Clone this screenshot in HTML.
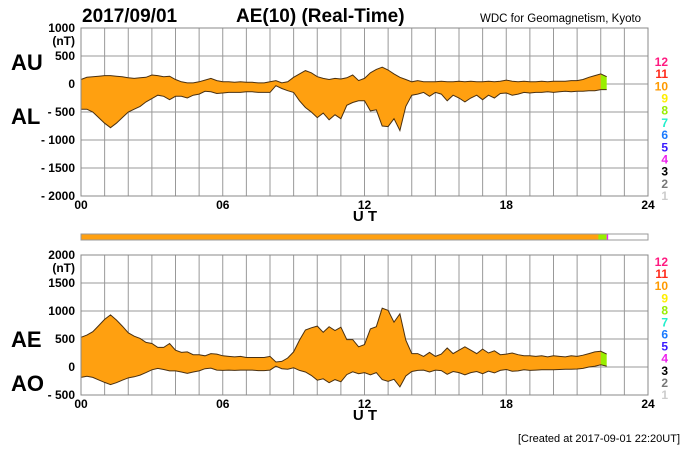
<!DOCTYPE html>
<html><head><meta charset="utf-8"><style>
html,body{margin:0;padding:0;background:#fff;}
svg{display:block;font-family:"Liberation Sans",sans-serif;}
</style></head><body>
<svg id="chart" width="700" height="450" viewBox="0 0 700 450" xmlns="http://www.w3.org/2000/svg">
<text x="82" y="22" font-size="19" font-weight="bold">2017/09/01</text>
<text x="236" y="22" font-size="19" font-weight="bold">AE(10) (Real-Time)</text>
<text x="480" y="22" font-size="11.5">WDC for Geomagnetism, Kyoto</text>
<text x="11" y="70" font-size="22" font-weight="bold">AU</text>
<text x="11" y="124" font-size="22" font-weight="bold">AL</text>
<text x="11" y="347" font-size="22" font-weight="bold">AE</text>
<text x="11" y="391" font-size="22" font-weight="bold">AO</text>
<text x="680" y="442" font-size="11" text-anchor="end">[Created at 2017-09-01 22:20UT]</text>
<g id="g"></g>
</svg>
<script>
const hourTicks = ["00","06","12","18","24"];
const topTicks = [1000,500,0,-500,-1000,-1500,-2000];
const botTicks = [2000,1500,1000,500,0,-500];
const levelLabels = ["12","11","10","9","8","7","6","5","4","3","2","1"];
const levelColors = ["#ff1a80","#ff2a1a","#ff9a00","#ffee00","#99ee00","#22eecc","#1a7aff","#3a1aff","#ee22ee","#000000","#777777","#cccccc"];
const stepHours = 0.25;
const AU = [80,120,130,140, 150,150,140,130, 110,100,110,120, 160,150,130,140, 80,40,20,20,
 40,70,100,60, 40,40,30,40, 30,30,20,20, 40,60,20,40, 120,180,240,200,
 130,100,80,100, 90,110,160,60, 100,200,260,300, 250,180,120,80, 40,60,40,40,
 40,50,40,40, 50,40,50,40, 40,50,40,50, 70,50,40,50, 40,40,50,40,
 50,50,50,60, 60,80,120,150, 180,130];
const AL = [-450,-450,-500,-600, -700,-780,-700,-600, -500,-450,-400,-320, -260,-200,-220,-280, -220,-220,-250,-200,
 -180,-130,-140,-170, -160,-150,-150,-150, -140,-140,-150,-150, -150,-30,-80,-120, -150,-300,-420,-500,
 -600,-520,-640,-550, -620,-380,-330,-300, -300,-480,-460,-750, -760,-620,-830,-400, -200,-180,-150,-220,
 -150,-180,-300,-200, -250,-320,-250,-200, -280,-200,-250,-170, -160,-200,-180,-150, -160,-150,-150,-140,
 -150,-140,-130,-140, -130,-130,-120,-120, -100,-100];
const greenStartHour = 21.9;

const NS="http://www.w3.org/2000/svg";
const g=document.getElementById('g');
function mk(t,a,parent){const e=document.createElementNS(NS,t);for(const k in a)e.setAttribute(k,a[k]);(parent||g).appendChild(e);return e;}
const X0=81,X1=648;
const xs=h=>X0+(X1-X0)*h/24;
function yAxis(top,bot,vmax,vmin){return v=>top+(vmax-v)*(bot-top)/(vmax-vmin);}
const yTop=yAxis(28,196,1000,-2000);
const yBot=yAxis(255,395,2000,-500);

function panel(name,top,bot,ticks,ys,upper,lower,legTop,legBot){
  const grid=mk('g',{});
  
  
  for(let h=0;h<=24;h++){const l=mk('line',{x1:xs(h),x2:xs(h),y1:top,y2:bot,stroke:'#999','stroke-width':1},grid);}
  ticks.forEach(v=>{mk('line',{x1:X0,x2:X1,y1:ys(v),y2:ys(v),stroke:'#999','stroke-width':1},grid);
    const t=mk('text',{x:75,y:ys(v)+4,'font-size':12,'font-weight':'bold','text-anchor':'end'});
    
    
    t.textContent=(v<0?'- '+(-v):String(v));
  });
  const u=mk('text',{x:75,y:top+17,'font-size':12,'font-weight':'bold','text-anchor':'end'});
  
  
  u.textContent='(nT)';
  // fill
  const n=upper.length;
  const pt=(i,arr)=>xs(i*stepHours).toFixed(1)+','+ys(arr[i]).toFixed(1);
  const gi=Math.round(greenStartHour/stepHours);
  let dO='M',dG='M';
  const up=[],lo=[];
  for(let i=0;i<n;i++){up.push(pt(i,upper));lo.push(pt(i,lower));}
  const upO=up.slice(0,gi+1),loO=lo.slice(0,gi+1);
  const area=mk('path',{d:'M'+upO.join('L')+'L'+loO.reverse().join('L')+'Z',fill:'#ffa010',stroke:'none'});
  
  
  const upG=up.slice(gi),loG=lo.slice(gi);
  const ga=mk('path',{d:'M'+upG.join('L')+'L'+loG.reverse().join('L')+'Z',fill:'#99ee00',stroke:'none'});
  
  
  const l1=mk('polyline',{points:up.join(' '),fill:'none',stroke:'#4a3010','stroke-width':1});
  
  
  const l2=mk('polyline',{points:lo.join(' '),fill:'none',stroke:'#4a3010','stroke-width':1});
  
  
  const fr=mk('rect',{x:X0,y:top,width:X1-X0,height:bot-top,fill:'none',stroke:'#888','stroke-width':1});
  
  
  hourTicks.forEach((s,i)=>{const t=mk('text',{x:xs(i*6),y:bot+13,'font-size':12,'font-weight':'bold','text-anchor':'middle'});
    
    
    t.textContent=s;});
  const ut=mk('text',{x:365,y:bot+25,'font-size':15,'font-weight':'bold','text-anchor':'middle'});
  
  
  ut.textContent='U T';
  levelLabels.forEach((s,i)=>{const t=mk('text',{x:668,y:legTop+i*(legBot-legTop)/11+4,'font-size':12,'font-weight':'bold','text-anchor':'end',fill:levelColors[i]});
    
    
    t.textContent=s;});
}
panel('top-panel',28,196,topTicks,yTop,AU,AL,62,196);
const AE=AU.map((v,i)=>v-AL[i]);
const AO=AU.map((v,i)=>(v+AL[i])/2);
panel('bottom-panel',255,395,botTicks,yBot,AE,AO,262,395);
// status bar
const sb=mk('g',{});


const lastH=(AU.length-1)*stepHours;
mk('rect',{x:X0,y:234,width:X1-X0,height:6,fill:'#fff',stroke:'#999','stroke-width':1},sb);
mk('rect',{x:X0+0.5,y:234.5,width:xs(greenStartHour)-X0,height:5,fill:'#ffa010'},sb);
mk('rect',{x:xs(greenStartHour),y:234.5,width:xs(lastH)-xs(greenStartHour),height:5,fill:'#99ee00'},sb);
mk('rect',{x:xs(lastH),y:234.5,width:1.5,height:5,fill:'#ee22ee'},sb);
</script>
</body></html>
